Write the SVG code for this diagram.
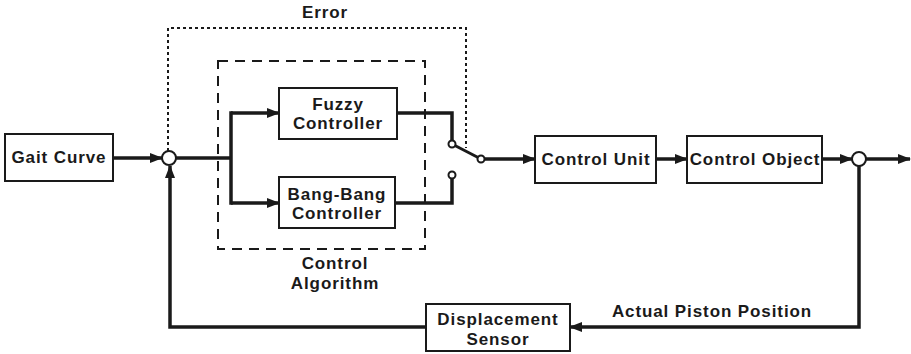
<svg xmlns="http://www.w3.org/2000/svg" width="911" height="354" viewBox="0 0 911 354">
<style>
.box{fill:#fff;stroke:#1a1a1a;stroke-width:2}
.t{font-family:"Liberation Sans",Arial,sans-serif;font-weight:bold;font-size:17px;letter-spacing:0.9px;fill:#1a1a1a;text-anchor:middle}
.w{fill:none;stroke:#1a1a1a;stroke-width:3.5}
.c{fill:#fff;stroke:#1a1a1a;stroke-width:2}
</style>
<defs>
<marker id="ah" markerUnits="userSpaceOnUse" markerWidth="13" markerHeight="10" refX="12" refY="5" orient="auto">
<path d="M0,0 L13,5 L0,10 z" fill="#1a1a1a"/>
</marker>
</defs>
<rect width="911" height="354" fill="#fff"/>
<g id="connectors">
<path class="w" d="M113,158 H162" marker-end="url(#ah)"/>
<path class="w" d="M176,158 H231"/>
<path class="w" d="M231,113 V203" stroke-linecap="square"/>
<path class="w" d="M231,113 H279" marker-end="url(#ah)"/>
<path class="w" d="M231,203 H279" marker-end="url(#ah)"/>
<path class="w" d="M397,113 H452 V141"/>
<path class="w" d="M395,203 H452 V178"/>
<path fill="none" stroke="#1a1a1a" stroke-width="3" d="M452,144 L481,159"/>
<path class="w" d="M484,159 H535" marker-end="url(#ah)"/>
<path class="w" d="M656,159 H687" marker-end="url(#ah)"/>
<path class="w" d="M822,159 H852" marker-end="url(#ah)"/>
<path class="w" d="M866,159 H910" marker-end="url(#ah)"/>
<path class="w" d="M859,166 V327 H570" marker-end="url(#ah)"/>
<path class="w" d="M426,327 H170 V166" marker-end="url(#ah)"/>
<path fill="none" stroke="#1a1a1a" stroke-width="2" stroke-dasharray="3,3" d="M168,151 V28 H466 V148"/>
</g>
<g id="control-algorithm">
<rect x="218" y="61" width="207" height="188" fill="none" stroke="#1a1a1a" stroke-width="2" stroke-dasharray="10,7"/>
<text class="t" x="335" y="269">Control</text>
<text class="t" x="335" y="289">Algorithm</text>
</g>
<g id="error-label"><text class="t" x="325" y="18">Error</text></g>
<g id="gait-curve">
<rect class="box" x="5" y="134" width="108" height="47"/>
<text class="t" x="59" y="163">Gait Curve</text>
</g>
<g id="sum1"><circle class="c" cx="169" cy="158" r="7"/></g>
<g id="fuzzy">
<rect class="box" x="279" y="88" width="118" height="51"/>
<text class="t" x="338" y="110">Fuzzy</text>
<text class="t" x="338" y="129">Controller</text>
</g>
<g id="bangbang">
<rect class="box" x="279" y="177" width="116" height="51"/>
<text class="t" x="337" y="200">Bang-Bang</text>
<text class="t" x="337" y="219">Controller</text>
</g>
<g id="switch">
<circle class="c" cx="452" cy="144" r="3.5"/>
<circle class="c" cx="452" cy="175" r="3.5"/>
<circle class="c" cx="481" cy="159" r="3.5"/>
</g>
<g id="control-unit">
<rect class="box" x="535" y="136" width="121" height="47"/>
<text class="t" x="596" y="165">Control Unit</text>
</g>
<g id="control-object">
<rect class="box" x="687" y="136" width="135" height="47"/>
<text class="t" x="755" y="165">Control Object</text>
</g>
<g id="sum2"><circle class="c" cx="859" cy="159" r="7"/></g>
<g id="displacement-sensor">
<rect class="box" x="426" y="304" width="144" height="47"/>
<text class="t" x="498" y="325">Displacement</text>
<text class="t" x="498" y="345">Sensor</text>
</g>
<g id="piston-label"><text class="t" x="712" y="317">Actual Piston Position</text></g>
</svg>
